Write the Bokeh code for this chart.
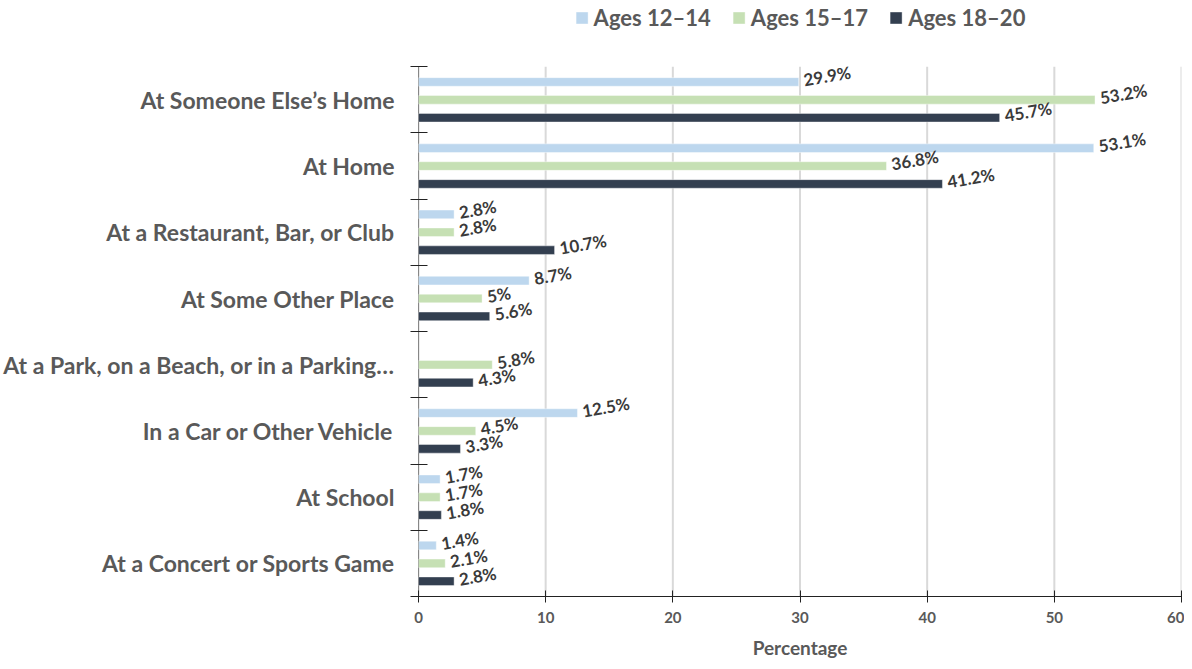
import math
from bokeh.plotting import figure
from bokeh.models import ColumnDataSource, FixedTicker, Legend, LegendItem, Range1d
from bokeh.core.properties import value
from bokeh.embed import file_html
from bokeh.resources import INLINE

categories = [
    "At Someone Else\u2019s Home",
    "At Home",
    "At a Restaurant, Bar, or Club",
    "At Some Other Place",
    "At a Park, on a Beach, or in a Parking\u2026",
    "In a Car or Other Vehicle",
    "At School",
    "At a Concert or Sports Game",
]
series_names = ["Ages 12\u201314", "Ages 15\u201317", "Ages 18\u201320"]
ages_12_14 = [29.9, 53.1, 2.8, 8.7, float("nan"), 12.5, 1.7, 1.4]
ages_15_17 = [53.2, 36.8, 2.8, 5.0, 5.8, 4.5, 1.7, 2.1]
ages_18_20 = [45.7, 41.2, 10.7, 5.6, 4.3, 3.3, 1.8, 2.8]
x_ticks = [0, 10, 20, 30, 40, 50, 60]

colors = ["#bdd7ee", "#c6e0b4", "#333f50"]
offsets = [0.27, 0.0, -0.27]
FONT = "Lato"

n = len(categories)
centers = [n - 0.5 - i for i in range(n)]
bounds = list(range(n + 1))

# the top unit of the y range is reserved for the legend
p = figure(width=1184, height=661, output_backend="svg", toolbar_location=None,
           x_range=Range1d(x_ticks[0], x_ticks[-1]), y_range=Range1d(0, n + 1),
           min_border_left=415, min_border_right=3, min_border_top=0, min_border_bottom=5)
p.outline_line_color = None
p.background_fill_color = "white"

# vertical grid lines and y-axis line only over the category area
p.segment(x0=x_ticks, y0=[0] * len(x_ticks), x1=x_ticks, y1=[n] * len(x_ticks),
          line_color="#d9d9d9", line_width=2, level="underlay")
p.segment(x0=[x_ticks[0]], y0=[0], x1=[x_ticks[0]], y1=[n], line_color="#222222", line_width=1)

items = []
for vals, name, col, off in zip([ages_12_14, ages_15_17, ages_18_20], series_names, colors, offsets):
    ys = [c + off for c in centers]
    src = ColumnDataSource(dict(
        y=ys, right=vals,
        lab=["" if math.isnan(v) else (f"{v:g}%") for v in vals]))
    r = p.hbar(y="y", right="right", left=0, height=0.13, source=src,
               fill_color=col, line_color="white", line_alpha=0.4, line_width=1)
    p.text(x="right", y="y", text="lab", source=src, x_offset=5, y_offset=-2,
           angle=0.17, text_align="left", text_baseline="middle",
           text_font=value(FONT), text_font_style="bold", text_font_size="17px",
           text_color="#3a3a3a")
    items.append(LegendItem(label=name, renderers=[r]))

legend = Legend(items=items, orientation="horizontal", location="top_center",
                label_text_font=FONT, label_text_font_style="bold",
                label_text_font_size="22px", label_text_color="#595959",
                glyph_width=15, glyph_height=15, spacing=20, label_standoff=5,
                border_line_color=None, background_fill_alpha=0, padding=4, margin=4)
p.add_layout(legend)

# x axis
p.xaxis.ticker = FixedTicker(ticks=x_ticks)
p.xaxis.axis_label = "Percentage"
p.xaxis.axis_label_text_font = FONT
p.xaxis.axis_label_text_font_style = "bold"
p.xaxis.axis_label_text_font_size = "19px"
p.xaxis.axis_label_text_color = "#595959"
p.xaxis.axis_label_standoff = 10
p.xaxis.major_label_text_font = FONT
p.xaxis.major_label_text_font_style = "bold"
p.xaxis.major_label_text_font_size = "15px"
p.xaxis.major_label_text_color = "#595959"
p.xaxis.major_label_standoff = 9
p.xaxis.major_tick_in = 6
p.xaxis.major_tick_out = 6
p.xaxis.minor_tick_line_color = None
p.xaxis.axis_line_color = "#222222"
p.xaxis.major_tick_line_color = "#222222"

# y axis
p.yaxis.ticker = FixedTicker(ticks=centers, minor_ticks=bounds)
p.yaxis.major_label_overrides = {c: lab for c, lab in zip(centers, categories)}
p.yaxis.major_label_text_font = FONT
p.yaxis.major_label_text_font_style = "bold"
p.yaxis.major_label_text_font_size = "23px"
p.yaxis.major_label_text_color = "#595959"
p.yaxis.major_tick_in = 0
p.yaxis.major_tick_out = 0
p.yaxis.minor_tick_in = 9
p.yaxis.minor_tick_out = 8
p.yaxis.minor_tick_line_color = "#222222"
p.yaxis.minor_tick_line_width = 1
p.yaxis.major_label_standoff = 16
p.yaxis.axis_line_color = None

p.xgrid.grid_line_color = None
p.ygrid.grid_line_color = None

open("out.html", "w").write(file_html(p, INLINE))
